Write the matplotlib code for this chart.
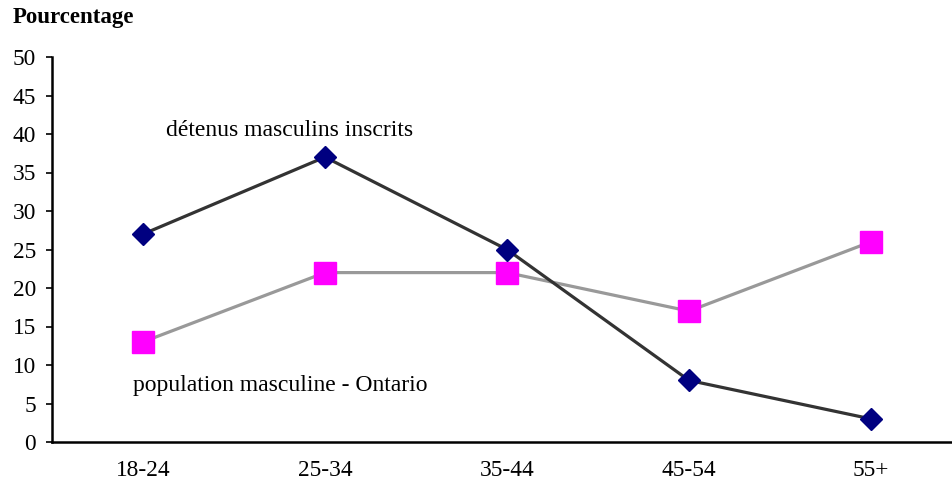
import matplotlib
matplotlib.use("Agg")
import matplotlib.pyplot as plt

# age groups and share (%) of each group
age_groups = ["18-24", "25-34", "35-44", "45-54", "55+"]
detenus = [27, 37, 25, 8, 3]
population = [13, 22, 22, 17, 26]
y_ticks = list(range(0, 51, 5))

plt.rcParams['font.family'] = ['Liberation Serif', 'DejaVu Serif']

fig = plt.figure(figsize=(9.53, 4.87), dpi=100)
# axes runs slightly past the right edge of the figure
ax = fig.add_axes([52 / 953, 45 / 487, 910 / 953, 385 / 487])

x = range(len(age_groups))
ax.plot(x, population, color='#999999', linewidth=2.3, marker='s', markersize=15.5,
        markerfacecolor='#FF00FF', markeredgecolor='#FF00FF', zorder=2)
ax.plot(x, detenus, color='#333333', linewidth=2.3, marker='D', markersize=11,
        markerfacecolor='#000080', markeredgecolor='#000080', zorder=3)

ax.set_xlim(-0.5, 4.5)
ax.set_ylim(0, 50)
ax.set_xticks(list(x))
ax.set_xticklabels(age_groups)
ax.set_yticks(y_ticks)

ax.tick_params(axis='x', length=0, pad=13, labelsize=16.8)
ax.tick_params(axis='y', direction='out', length=4.5, width=1.2, pad=7, labelsize=16.8)

for side in ['top', 'right']:
    ax.spines[side].set_visible(False)
for side in ['left', 'bottom']:
    ax.spines[side].set_linewidth(1.8)
    ax.spines[side].set_color('black')

ax.text(0.126, 40.5, "détenus masculins inscrits", fontsize=17, va='center', ha='left')
ax.text(-0.055, 7.4, "population masculine - Ontario", fontsize=17, va='center', ha='left')

fig.text(13 / 953, 1 - 18 / 487, "Pourcentage", fontsize=16.5, fontweight='bold',
         va='center', ha='left')

fig.savefig("out.png", dpi=100)
